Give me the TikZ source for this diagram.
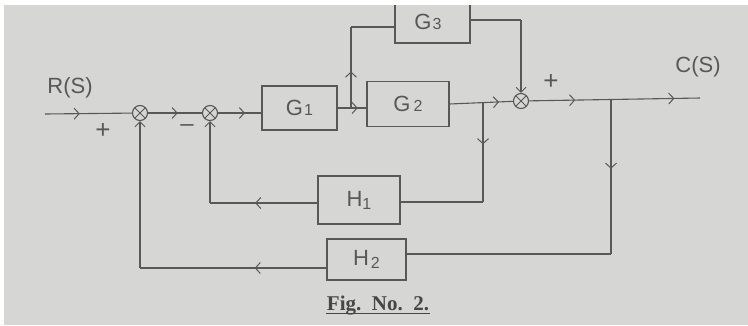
\documentclass[tikz,border=0pt]{standalone}
\usepackage{fontspec}
\setmainfont{Liberation Serif}
\newfontfamily\hand{Liberation Sans}
\usetikzlibrary{arrows.meta,decorations.markings,calc}
\definecolor{paper}{RGB}{214,214,212}
\definecolor{ink}{RGB}{88,88,88}
\definecolor{printink}{RGB}{70,70,70}
\tikzset{
  arr/.style={postaction={decorate,decoration={markings,
      mark=at position #1 with {\arrow{Straight Barb[length=5pt,width=11pt,line width=1pt]}}}}},
  tip/.style={-{Straight Barb[length=5pt,width=10pt,line width=1pt]}},
  blk/.style={draw=ink, line width=1.1pt, inner sep=0pt, font=\hand\fontsize{22}{22}\selectfont, text=ink},
  sumj/.style={circle, draw=ink, line width=1.1pt, minimum size=15pt, inner sep=0pt,
      path picture={\draw[ink,line width=1pt] (path picture bounding box.north west) -- (path picture bounding box.south east)
        (path picture bounding box.north east) -- (path picture bounding box.south west);}},
  lbl/.style={text=ink, font=\hand\fontsize{22}{22}\selectfont, inner sep=0pt},
}
\newcommand{\sm}[1]{{\fontsize{16}{16}\selectfont #1}}
\begin{document}
\begin{tikzpicture}[x=1pt,y=-1pt,line width=1.1pt,draw=ink]
\useasboundingbox (0,0) rectangle (748,325);
\fill[paper] (4,5) rectangle (748,325);
\begin{scope}
\clip (4,5) rectangle (748,325);
% blocks
\node[blk, minimum width=75pt, minimum height=44pt] (G1) at (299.5,108) {G\kern1pt\sm{1}};
\node[blk, minimum width=82pt, minimum height=45pt] (G2) at (408,104) {G\kern3pt\sm{2}};
\node[blk, minimum width=75pt, minimum height=48pt] (G3) at (432.5,19) {};
\node[lbl] at (428,22) {G\kern1pt\sm{3}};
\node[blk, minimum width=82pt, minimum height=48pt] (H1) at (359,200) {H\raisebox{-3pt}{\sm{1}}};
\node[blk, minimum width=79pt, minimum height=41pt] (H2) at (366.5,259.5) {H\kern2pt\raisebox{-3pt}{\sm{2}}};
% summing junctions
\node[sumj] (s1) at (140,113) {};
\node[sumj] (s2) at (210,113) {};
\node[sumj] (s3) at (521,101) {};
% coordinates
\coordinate (in) at (45,114);
\coordinate (b1) at (351,108);
\coordinate (b1t) at (351,27);
\coordinate (g3c) at (521,20);
\coordinate (b2) at (483,102.5);
\coordinate (b2b) at (483,202);
\coordinate (h1c) at (210,203);
\coordinate (out) at (700,98);
\coordinate (b3) at (611,99);
\coordinate (b3b) at (611,254);
\coordinate (h2c) at (140,268);
% forward path
\draw[arr=0.4] (in) -- (s1);
\draw[arr=0.55] (s1) -- (s2);
\draw[arr=0.62] (s2) -- (s2 -| G1.west);
\draw[arr=0.7] (G1.east) -- (G1.east -| G2.west);
\draw[arr=0.45] (b1) -- (b1t);
\draw (b1t) -- (b1t -| G3.west);
\draw (G3.east |- g3c) -- (g3c);
\draw[tip] (g3c) -- (s3.north);
\draw[arr=0.78] (G2.east) -- (s3);
\draw[arr=0.27, arr=0.85] (s3) -- (out);
% feedback H1
\draw[arr=0.42] (b2) -- (b2b);
\draw (b2b) -- (H1.east |- b2b);
\draw[arr=0.58] (H1.west |- h1c) -- (h1c);
\draw[tip] (h1c) -- (s2.south);
% feedback H2
\draw[arr=0.45] (b3) -- (b3b);
\draw (b3b) -- (H2.east |- b3b);
\draw[arr=0.385] (H2.west |- h2c) -- (h2c);
\draw[tip] (h2c) -- (s1.south);
% labels
\node[lbl] at (70,88) {R(S)};
\node[lbl] at (698,67) {C(S)};
\node[lbl, font=\hand\fontsize{26}{26}\selectfont] at (103,131) {+};
\node[lbl, font=\hand\fontsize{24}{24}\selectfont] at (187,128) {–};
\node[lbl, font=\hand\fontsize{26}{26}\selectfont] at (551,82) {+};
\node[text=printink, font=\bfseries\fontsize{21}{21}\selectfont, inner sep=0pt] (fig) at (378,306) {Fig.\ \ No.\ \ 2.};
\draw[printink, line width=1pt] ($(fig.south west)+(0,-3)$) -- ($(fig.south east)+(0,-3)$);
\end{scope}
\end{tikzpicture}
\end{document}
